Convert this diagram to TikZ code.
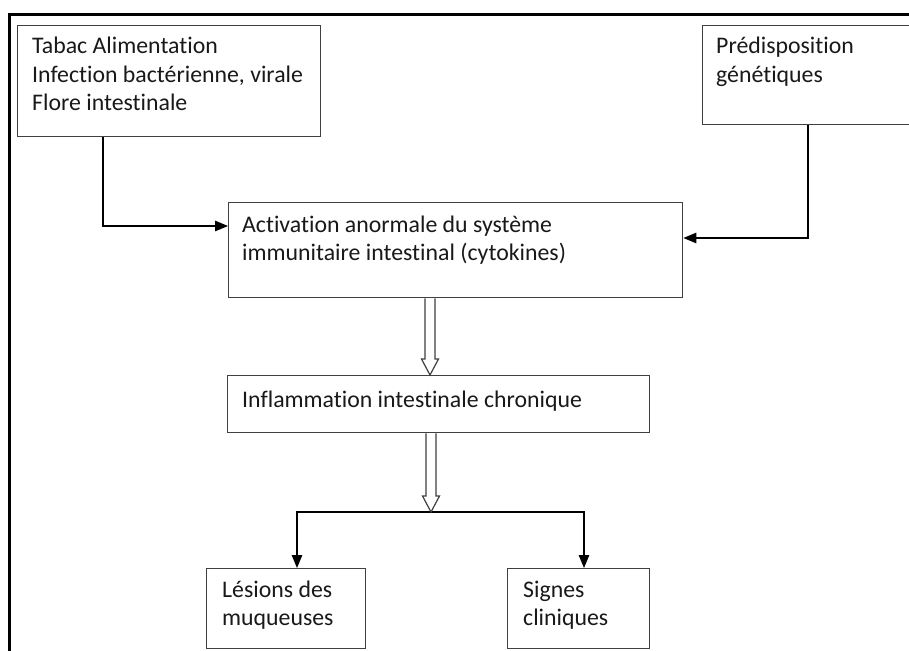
\documentclass[tikz,border=0pt]{standalone}
\usepackage{fontspec}
\setmainfont{Carlito}[Ligatures=NoCommon]
\usetikzlibrary{arrows.meta,calc}
\newcommand\mylines[1]{\vtop{\halign{##\hfil\cr#1\crcr}}}
\begin{document}
\begin{tikzpicture}[x=1pt,y=-1pt,
  box/.style={draw=black!75, line width=1.4pt, rectangle, inner sep=0pt, anchor=north west},
  txt/.style={anchor=base west, inner sep=0pt, text=black!90, font=\fontsize{23.8}{28.5}\selectfont},
  conn/.style={line width=1.3pt, -{Triangle[length=13pt,width=10.5pt]}},
  hollow/.style={draw=black!75, line width=1.2pt, fill=white, line join=miter}]
\useasboundingbox (0,0) rectangle (909,650);
\clip (0,0) rectangle (909,650);
\fill[white] (0,0) rectangle (909,650);
% outer frame
\draw[line width=3pt] (9,652) -- (9,15) -- (912,15);
% boxes
\node[box, minimum width=303pt, minimum height=111pt] (tabac) at (17,25) {};
\node[box, minimum width=215pt, minimum height=99pt] (pred) at (702,25) {};
\node[box, minimum width=454pt, minimum height=95pt] (act) at (228,202) {};
\node[box, minimum width=422pt, minimum height=57pt] (inf) at (227,375) {};
\node[box, minimum width=159pt, minimum height=80pt] (les) at (206,568) {};
\node[box, minimum width=142pt, minimum height=80pt] (sig) at (507,568) {};
% texts
\node[txt] (t1) at ($(tabac.north west)+(15,29)$) {\mylines{Tabac Alimentation\cr Infection bactérienne, virale\cr Flore intestinale}};
\node[txt] (t2) at ($(pred.north west)+(14,29)$) {\mylines{Prédisposition\cr génétiques}};
\node[txt] (t3) at ($(act.north west)+(14,30)$) {\mylines{Activation anormale du système\cr immunitaire intestinal (cytokines)}};
\node[txt] (t4) at ($(inf.north west)+(15,32)$) {Inflammation intestinale chronique};
\node[txt] (t5) at ($(les.north west)+(16,29)$) {\mylines{Lésions des\cr muqueuses}};
\node[txt] (t6) at ($(sig.north west)+(16,29)$) {\mylines{Signes\cr cliniques}};
% connectors
\draw[conn] (103,0 |- tabac.south) |- (act.west |- 0,226);
\draw[conn] (808,0 |- pred.south) |- (act.east |- 0,238);
\coordinate (br) at (431,512);
\draw[conn] (br) -| (297,0 |- les.north);
\draw[conn] (br) -| (584,0 |- sig.north);
% hollow arrows
\coordinate (s1) at (430,0 |- act.south);
\coordinate (e1) at (430,0 |- inf.north);
\draw[hollow] ($(s1)+(-5,0)$) -- ($(e1)+(-5,-16)$) -- ($(e1)+(-8.5,-16)$) -- (e1) -- ($(e1)+(8.5,-16)$) -- ($(e1)+(5,-16)$) -- ($(s1)+(5,0)$);
\coordinate (s2) at (431,0 |- inf.south);
\draw[hollow] ($(s2)+(-5,0)$) -- ($(br)+(-5,-16)$) -- ($(br)+(-8.5,-16)$) -- (br) -- ($(br)+(8.5,-16)$) -- ($(br)+(5,-16)$) -- ($(s2)+(5,0)$);
\end{tikzpicture}
\end{document}
